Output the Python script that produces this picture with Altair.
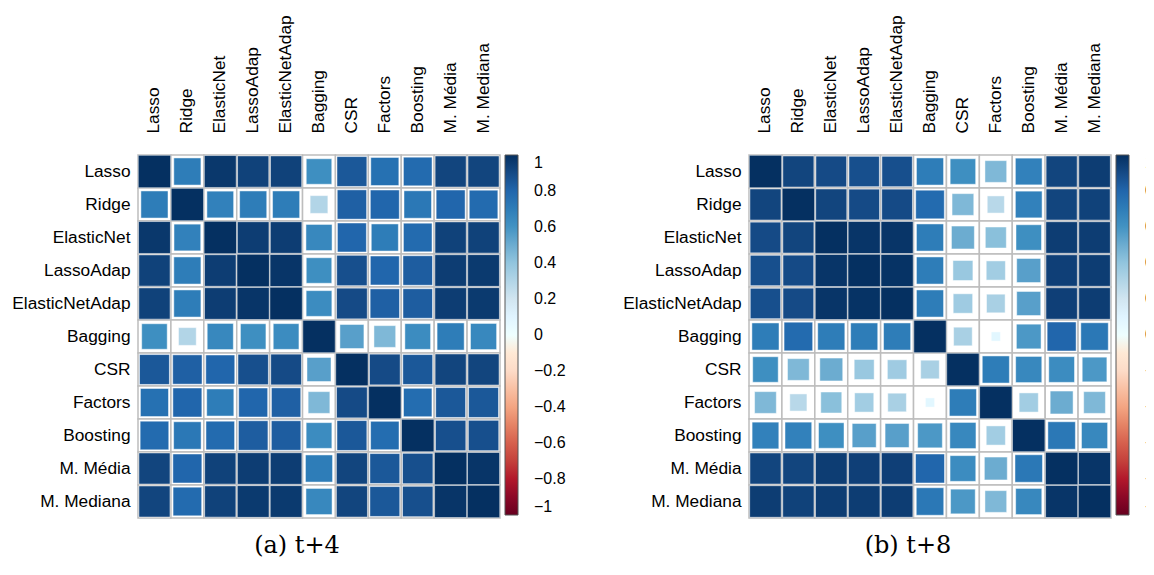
import altair as alt
import pandas as pd

names = ["Lasso", "Ridge", "ElasticNet", "LassoAdap", "ElasticNetAdap", "Bagging",
         "CSR", "Factors", "Boosting", "M. Média", "M. Mediana"]

# correlation matrix, horizon t+4 (rows/cols in the order of `names`)
t4 = [
    [1.00, 0.70, 0.97, 0.93, 0.93, 0.62, 0.85, 0.75, 0.78, 0.92, 0.92],
    [0.70, 1.00, 0.68, 0.70, 0.70, 0.30, 0.82, 0.80, 0.72, 0.80, 0.78],
    [0.97, 0.68, 1.00, 0.95, 0.95, 0.65, 0.80, 0.70, 0.78, 0.93, 0.93],
    [0.93, 0.70, 0.95, 1.00, 0.98, 0.62, 0.88, 0.80, 0.83, 0.95, 0.96],
    [0.93, 0.70, 0.95, 0.98, 1.00, 0.63, 0.90, 0.82, 0.83, 0.95, 0.96],
    [0.62, 0.30, 0.65, 0.62, 0.63, 1.00, 0.55, 0.45, 0.63, 0.70, 0.65],
    [0.85, 0.82, 0.80, 0.88, 0.90, 0.55, 1.00, 0.90, 0.85, 0.92, 0.92],
    [0.75, 0.80, 0.70, 0.80, 0.82, 0.45, 0.90, 1.00, 0.77, 0.85, 0.85],
    [0.78, 0.72, 0.78, 0.83, 0.83, 0.63, 0.85, 0.77, 1.00, 0.88, 0.88],
    [0.92, 0.80, 0.93, 0.95, 0.95, 0.70, 0.92, 0.85, 0.88, 1.00, 0.98],
    [0.92, 0.78, 0.93, 0.96, 0.96, 0.65, 0.92, 0.85, 0.88, 0.98, 1.00],
]

# correlation matrix, horizon t+8
t8 = [
    [1.00, 0.92, 0.90, 0.88, 0.88, 0.70, 0.62, 0.45, 0.68, 0.92, 0.95],
    [0.92, 1.00, 0.92, 0.90, 0.90, 0.78, 0.45, 0.28, 0.68, 0.92, 0.93],
    [0.90, 0.92, 1.00, 0.98, 0.98, 0.70, 0.50, 0.42, 0.62, 0.95, 0.95],
    [0.88, 0.90, 0.98, 1.00, 0.99, 0.70, 0.38, 0.35, 0.55, 0.94, 0.95],
    [0.88, 0.90, 0.98, 0.99, 1.00, 0.70, 0.36, 0.33, 0.55, 0.94, 0.95],
    [0.70, 0.78, 0.70, 0.70, 0.70, 1.00, 0.33, 0.08, 0.58, 0.80, 0.72],
    [0.62, 0.45, 0.50, 0.38, 0.36, 0.33, 1.00, 0.70, 0.65, 0.63, 0.58],
    [0.45, 0.28, 0.42, 0.35, 0.33, 0.08, 0.70, 1.00, 0.35, 0.50, 0.45],
    [0.68, 0.68, 0.62, 0.55, 0.55, 0.58, 0.65, 0.35, 1.00, 0.72, 0.65],
    [0.92, 0.92, 0.95, 0.94, 0.94, 0.80, 0.63, 0.50, 0.72, 1.00, 0.98],
    [0.95, 0.93, 0.95, 0.95, 0.95, 0.72, 0.58, 0.45, 0.65, 0.98, 1.00],
]

stops = [-1, -0.8, -0.6, -0.4, -0.2, 0, 0.2, 0.4, 0.6, 0.8, 1]
palette = ["#67001F", "#B2182B", "#D6604D", "#F4A582", "#FDDBC7", "#FFFFFF",
           "#D1E5F0", "#92C5DE", "#4393C3", "#2166AC", "#053061"]
captions = ["(a)  t+4", "(b)  t+8"]

FONT = "Liberation Sans"
LBL = 17.3


def long(mat):
    rows = []
    for i, rn in enumerate(names):
        for j, cn in enumerate(names):
            v = mat[i][j]
            rows.append({"row": rn, "col": cn, "r": v, "a": abs(v)})
    return pd.DataFrame(rows)


def panel(mat, caption):
    df = long(mat)
    base = alt.Chart(df)
    xenc = alt.X("col:N", sort=names, title=None,
                 scale=alt.Scale(paddingInner=0, paddingOuter=0),
                 axis=alt.Axis(orient="top", labelAngle=-90, labelAlign="left",
                               labelBaseline="middle", labelPadding=22, ticks=False,
                               domain=False, labelFont=FONT, labelFontSize=LBL,
                               labelColor="black"))
    yenc = alt.Y("row:N", sort=names, title=None,
                 scale=alt.Scale(paddingInner=0, paddingOuter=0),
                 axis=alt.Axis(labelPadding=8, ticks=False, domain=False,
                               labelFont=FONT, labelFontSize=LBL, labelColor="black"))
    cells = base.mark_rect(fill="white", stroke="#bdbdbd", strokeWidth=1.5).encode(
        x=xenc, y=yenc)
    squares = base.mark_square(opacity=1, stroke="white", strokeWidth=0.8,
                               strokeOpacity=0.6).encode(
        x=alt.X("col:N", sort=names),
        y=alt.Y("row:N", sort=names),
        size=alt.Size("a:Q", scale=alt.Scale(domain=[0, 1], range=[0, 1050]),
                      legend=None),
        color=alt.Color("r:Q", scale=alt.Scale(domain=stops, range=palette),
                        legend=alt.Legend(title=None, values=stops, format="~g",
                                          gradientLength=360, gradientThickness=13,
                                          gradientStrokeColor="#555555",
                                          gradientStrokeWidth=1,
                                          labelFont=FONT, labelFontSize=16,
                                          labelColor="black", labelAlign="center",
                                          labelBaseline="middle", labelOffset=16,
                                          offset=5, padding=0,
                                          labelOverlap=False)),
    )
    return alt.layer(cells, squares).properties(
        width=362, height=363,
        title=alt.TitleParams(caption, orient="bottom", anchor="middle",
                              frame="group", font="DejaVu Serif", fontSize=24,
                              fontWeight="normal", color="black", offset=15,
                              dx=-22),
    )


chart = alt.hconcat(panel(t4, captions[0]), panel(t8, captions[1]),
                    spacing=56).resolve_legend(color="independent").properties(
    autosize=alt.AutoSizeParams(type="none"),
    padding={"left": 130, "top": 147, "right": 1008, "bottom": 404},
).configure_view(stroke=None)

chart.save("out.html", embed_options={"renderer": "svg", "actions": False})
